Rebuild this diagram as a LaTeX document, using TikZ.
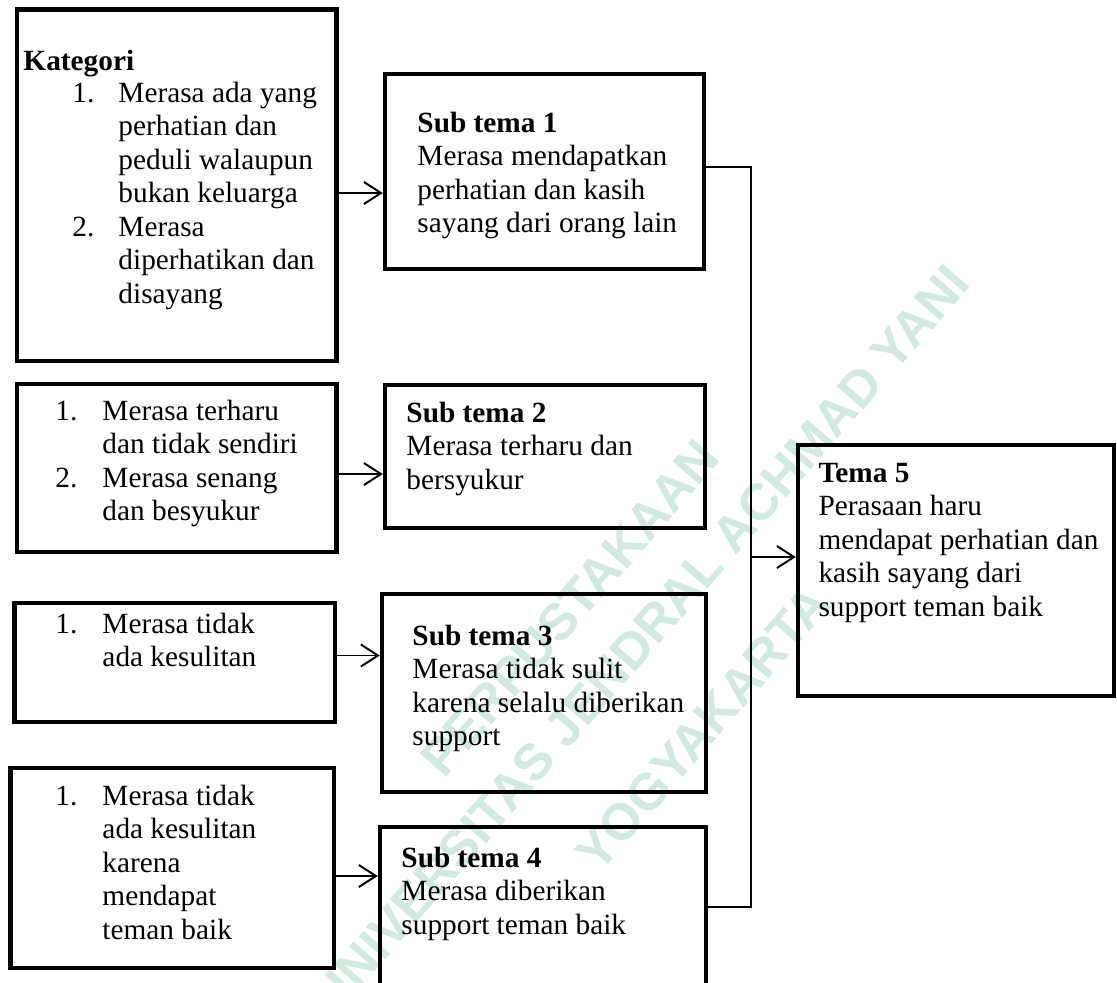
\documentclass[tikz,border=0pt]{standalone}
\usepackage{fontspec}
\setmainfont{Liberation Serif}
\newfontfamily\wmfont{Liberation Sans}
\usetikzlibrary{arrows.meta,fit}
\definecolor{wmgreen}{RGB}{208,234,221}
\newcommand\txtsize{\fontsize{12}{13.72}\selectfont}
% a left-aligned block of lines whose baseline is the first line
\newcommand\blocklines[1]{\begin{tabular}[t]{@{}l@{}}#1\end{tabular}}
% a numbered list: number column of width #1, then the item text
\newcommand\numlist[2]{\begin{tabular}[t]{@{}p{#1}@{}l@{}}#2\end{tabular}}
\begin{document}
\begin{tikzpicture}[x=0.4095pt,y=-0.4095pt,
  box/.style={draw, line width=1.8pt, inner sep=0pt, rectangle},
  lbl/.style={inner sep=0pt, anchor=base west, font=\txtsize},
  link/.style={line width=0.8pt},
  arr/.style={link, -{Straight Barb[length=7pt,width=9pt]}},
  wm/.style={text=wmgreen, font=\wmfont\bfseries\fontsize{21}{25}\selectfont, inner sep=0pt, rotate=49}]
\clip (0,0) rectangle (1117,982);
\fill[white] (0,0) rectangle (1117,982);

% library watermark
\node[wm] (w1) at (570,608) {PERPUSTAKAAN};
\node[wm] (w2) at (640,640) {UNIVERSITAS JENDRAL ACHMAD YANI};
\node[wm] (w3) at (703,728) {YOGYAKARTA};

% boxes
\node[box, fit={(17,9.5) (336.5,361)}] (k) {};
\node[box, fit={(385,74) (704,269)}] (s1) {};
\node[box, fit={(17,384) (336.5,552)}] (l2) {};
\node[box, fit={(385,385) (705,528)}] (s2) {};
\node[box, fit={(14.5,603) (335,722)}] (l3) {};
\node[box, fit={(382,594) (706,792)}] (s3) {};
\node[box, fit={(10.5,768) (334,968)}] (l4) {};
\node[box, fit={(380,827) (706,1010)}] (s4) {};
\node[box, fit={(798,445) (1114,696)}] (t5) {};

% texts
\node[lbl] (kh) at (23,70) {\textbf{Kategori}};
\node[lbl] (kt) at (72,102) {\numlist{18.84pt}{1. & Merasa ada yang\\ & perhatian dan\\ & peduli walaupun\\ & bukan keluarga\\ 2. & Merasa\\ & diperhatikan dan\\ & disayang}};
\node[lbl] (s1t) at (417,132) {\blocklines{\textbf{Sub tema 1}\\ Merasa mendapatkan\\ perhatian dan kasih\\ sayang dari orang lain}};
\node[lbl] (l2t) at (55,420) {\numlist{19.25pt}{1. & Merasa terharu\\ & dan tidak sendiri\\ 2. & Merasa senang\\ & dan besyukur}};
\node[lbl] (s2t) at (406,422) {\blocklines{\textbf{Sub tema 2}\\ Merasa terharu dan\\ bersyukur}};
\node[lbl] (l3t) at (55,633) {\numlist{19.25pt}{1. & Merasa tidak\\ & ada kesulitan}};
\node[lbl] (s3t) at (412,645) {\blocklines{\textbf{Sub tema 3}\\ Merasa tidak sulit\\ karena selalu diberikan\\ support}};
\node[lbl] (l4t) at (55,805) {\numlist{19.25pt}{1. & Merasa tidak\\ & ada kesulitan\\ & karena\\ & mendapat\\ & teman baik}};
\node[lbl] (s4t) at (401,867) {\blocklines{\textbf{Sub tema 4}\\ Merasa diberikan\\ support teman baik}};
\node[lbl] (t5t) at (818,482) {\blocklines{\textbf{Tema 5}\\ Perasaan haru\\ mendapat perhatian dan\\ kasih sayang dari\\ support teman baik}};

% arrows from categories to sub-themes
\draw[arr] (k.east |- 0,193) -- (s1.west |- 0,193);
\draw[arr] (l2.east |- 0,474) -- (s2.west |- 0,474);
\draw[arr] (l3.east |- 0,655.5) -- (s3.west |- 0,655.5);
\draw[arr] (l4.east |- 0,876) -- (s4.west |- 0,876);

% collecting line into the theme
\coordinate (tt) at (751,167);
\coordinate (tb) at (751,907);
\draw[link] (s1.east |- tt) -- (tt) -- (tb) -- (s4.east |- tb);
\draw[arr] (tt |- 0,557) -- (t5.west |- 0,557);
\end{tikzpicture}
\end{document}
